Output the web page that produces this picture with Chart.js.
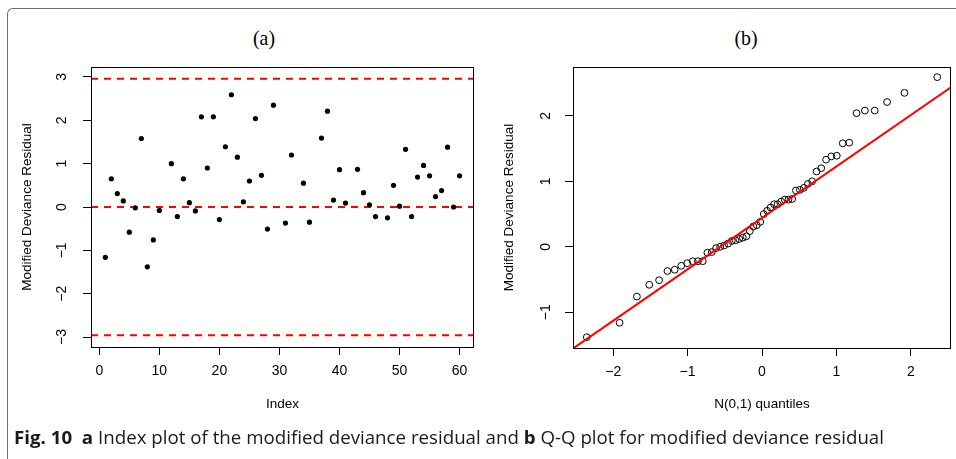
<!DOCTYPE html>
<html lang="en">
<head>
<meta charset="UTF-8">
<title>Fig. 10 - modified deviance residual</title>
<script src="https://cdn.jsdelivr.net/npm/chart.js@4.4.1/dist/chart.umd.min.js"></script>
<style>
  html, body { margin: 0; padding: 0; background: #fff; }
  body { width: 956px; height: 459px; position: relative; overflow: hidden; font-family: "Liberation Sans", Arial, sans-serif; }
  .frame { position: absolute; left: 7px; top: 8px; width: 980px; height: 480px; border-left: 1.5px solid #6f6f6f; border-top: 1.5px solid #6f6f6f; border-top-left-radius: 6px; }
  canvas { position: absolute; top: 0; }
  #chartA { left: 0; }
  #chartB { left: 478px; }
  .panel-title { position: absolute; top: 27px; font-family: "Liberation Serif", "DejaVu Serif", serif; font-size: 22px; line-height: 22px; color: #000; transform: translateX(-50%) scaleX(0.9); }
  .caption { position: absolute; left: 14px; top: 426px; font-family: "Open Sans", "Noto Sans", sans-serif; font-size: 17.5px; line-height: 22px; color: #1a1a1a; white-space: nowrap; transform-origin: 0 50%; }
  .caption b { font-weight: 700; }
</style>
</head>
<body>
<div class="frame"></div>
<div class="panel-title" style="left:264px">(a)</div>
<div class="panel-title" style="left:746px">(b)</div>
<canvas id="chartA" width="478" height="459"></canvas>
<canvas id="chartB" width="478" height="459"></canvas>
<div class="caption"><b>Fig. 10</b>&nbsp;&nbsp;<b>a</b> Index plot of the modified deviance residual and <b>b</b> Q-Q plot for modified deviance residual</div>

<script>
// ---- (a) index plot ----
const obsIndex = [1, 2, 3, 4, 5, 6, 7, 8, 9, 10, 12, 13, 14, 15, 16, 17, 18, 19, 20, 21, 22, 23, 24, 25, 26, 27, 28, 29,
  31, 32, 34, 35, 37, 38, 39, 40, 41, 43, 44, 45, 46, 48, 49, 50, 51, 52, 53, 54, 55, 56, 57, 58, 59, 60];
const residuals = [-1.16, 0.65, 0.31, 0.14, -0.58, -0.02, 1.58, -1.38, -0.76, -0.08, 1.0, -0.22, 0.65, 0.10, -0.09, 2.08, 0.90, 2.08, -0.29, 1.39, 2.59, 1.15, 0.12, 0.60, 2.04, 0.73, -0.51, 2.35,
  -0.37, 1.20, 0.55, -0.35, 1.59, 2.21, 0.16, 0.86, 0.09, 0.87, 0.33, 0.05, -0.22, -0.25, 0.50, 0.02, 1.33, -0.22, 0.69, 0.96, 0.72, 0.24, 0.38, 1.38, 0.0, 0.72];
const refLevels = [2.96, 0, -2.96];
const xTicksA = [0, 10, 20, 30, 40, 50, 60];
const yTicksA = [-3, -2, -1, 0, 1, 2, 3];

// ---- (b) normal Q-Q plot ----
const normQuantiles = [-2.355, -1.914, -1.681, -1.515, -1.383, -1.271, -1.173, -1.085, -1.005, -0.931, -0.861, -0.796, -0.734, -0.674,
  -0.617, -0.562, -0.509, -0.456, -0.405, -0.355, -0.306, -0.258, -0.210, -0.163, -0.116, -0.070, -0.023,
  0.023, 0.070, 0.116, 0.163, 0.210, 0.258, 0.306, 0.355, 0.405, 0.456, 0.509, 0.562, 0.617, 0.674,
  0.734, 0.796, 0.861, 0.931, 1.005, 1.085, 1.173, 1.271, 1.383, 1.515, 1.681, 1.914, 2.355];
const sortedResiduals = [-1.38, -1.16, -0.76, -0.58, -0.51, -0.37, -0.35, -0.29, -0.25, -0.22, -0.22, -0.22, -0.09, -0.08,
  -0.02, 0.0, 0.02, 0.05, 0.09, 0.10, 0.12, 0.14, 0.16, 0.24, 0.31, 0.33, 0.38,
  0.50, 0.55, 0.60, 0.65, 0.65, 0.69, 0.72, 0.72, 0.73, 0.86, 0.87, 0.90, 0.96, 1.0,
  1.15, 1.20, 1.33, 1.38, 1.39, 1.58, 1.59, 2.04, 2.08, 2.08, 2.21, 2.35, 2.59];
const qqLineX = [-2.54, 2.54];
const qqLineY = [-1.554, 2.434];
const xTicksB = [-2, -1, 0, 1, 2];
const yTicksB = [-1, 0, 1, 2];

const FONT = '"Liberation Sans", Arial, sans-serif';
const fmt = (v) => (v < 0 ? '\u2212' + Math.abs(v) : String(v));

// R-like box around the plot region + y labels drawn parallel to the axis
const rStyle = {
  id: 'rStyle',
  afterDraw(chart, args, opts) {
    const { ctx, chartArea: a } = chart;
    const ys = chart.scales.y;
    ctx.save();
    ctx.strokeStyle = '#000';
    ctx.lineWidth = 1;
    ctx.strokeRect(Math.round(a.left) + 0.5, Math.round(a.top) + 0.5,
      Math.round(a.right - a.left) - 1, Math.round(a.bottom - a.top));
    ctx.font = '14px ' + FONT;
    ctx.fillStyle = '#000';
    ctx.textAlign = 'center';
    ctx.textBaseline = 'middle';
    ys.ticks.forEach(t => {
      ctx.save();
      ctx.translate(opts.labelX, ys.getPixelForValue(t.value));
      ctx.rotate(-Math.PI / 2);
      ctx.fillText(fmt(t.value), 0, 0);
      ctx.restore();
    });
    ctx.restore();
  }
};

const axisX = (min, max, ticks, title, height) => ({
  type: 'linear', position: 'bottom', min, max,
  afterBuildTicks: s => { s.ticks = ticks.map(v => ({ value: v })); },
  afterFit: s => { s.height = height; },
  border: { display: false },
  grid: { drawOnChartArea: false, tickLength: 8, color: '#000' },
  ticks: { color: '#000', font: { size: 14, family: FONT }, padding: 8, maxRotation: 0, autoSkip: false, callback: fmt },
  title: { display: true, text: title, color: '#000', font: { size: 13.5, family: FONT }, padding: { top: 0, bottom: 47 } }
});

const axisY = (min, max, ticks, width, titlePad) => ({
  type: 'linear', min, max,
  afterBuildTicks: s => { s.ticks = ticks.map(v => ({ value: v })); },
  afterFit: s => { s.width = width; },
  border: { display: false },
  grid: { drawOnChartArea: false, tickLength: 8, color: '#000' },
  ticks: { display: false },
  title: { display: true, text: 'Modified Deviance Residual', color: '#000', font: { size: 13.5, family: FONT }, padding: { top: titlePad, bottom: 0 } }
});

const baseOpts = {
  responsive: false,
  animation: false,
  devicePixelRatio: 1,
  events: []
};

// (a) index plot
const xMinA = -1.38, xMaxA = 62.4;
new Chart(document.getElementById('chartA'), {
  type: 'scatter',
  data: {
    datasets: [
      {
        label: 'residual',
        data: obsIndex.map((x, i) => ({ x, y: residuals[i] })),
        pointRadius: 2.6,
        backgroundColor: '#000',
        borderWidth: 0
      },
      ...refLevels.map(lv => ({
        type: 'line',
        label: 'ref ' + lv,
        data: [{ x: xMinA, y: lv }, { x: xMaxA, y: lv }],
        showLine: true,
        borderColor: '#ff0000',
        borderWidth: 2,
        borderDash: [7, 6],
        pointRadius: 0,
        fill: false
      }))
    ]
  },
  options: {
    ...baseOpts,
    layout: { padding: { top: 67, right: 4, left: 0, bottom: 0 } },
    scales: {
      x: axisX(xMinA, xMaxA, xTicksA, 'Index', 112),
      y: axisY(-3.23, 3.23, yTicksA, 91, 19.5)
    },
    plugins: { legend: { display: false }, tooltip: { enabled: false }, rStyle: { labelX: 62.5 } }
  },
  plugins: [rStyle]
});

// (b) Q-Q plot
new Chart(document.getElementById('chartB'), {
  type: 'scatter',
  data: {
    datasets: [
      {
        type: 'line',
        label: 'qqline',
        data: qqLineX.map((x, i) => ({ x, y: qqLineY[i] })),
        showLine: true,
        borderColor: '#ff0000',
        borderWidth: 2,
        pointRadius: 0,
        fill: false
      },
      {
        label: 'sample',
        data: normQuantiles.map((x, i) => ({ x, y: sortedResiduals[i] })),
        pointRadius: 3.4,
        backgroundColor: 'rgba(0,0,0,0)',
        borderColor: '#000',
        borderWidth: 1
      }
    ]
  },
  options: {
    ...baseOpts,
    layout: { padding: { top: 67, right: 1, left: 0, bottom: 0 } },
    scales: {
      x: axisX(-2.54, 2.54, xTicksB, 'N(0,1) quantiles', 111),
      y: axisY(-1.545, 2.745, yTicksB, 95, 23)
    },
    plugins: { legend: { display: false }, tooltip: { enabled: false }, rStyle: { labelX: 68 } }
  },
  plugins: [rStyle]
});

// fit the caption to the width it has in the figure
const cap = document.querySelector('.caption');
cap.style.transform = 'scaleX(' + (870 / cap.getBoundingClientRect().width) + ')';
</script>
</body>
</html>
